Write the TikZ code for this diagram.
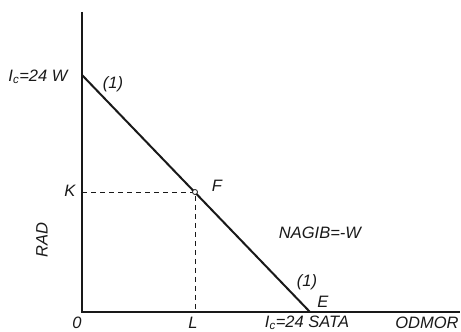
\documentclass[tikz,border=0pt]{standalone}
\usepackage{fontspec}
\setmainfont{Liberation Sans}
\usetikzlibrary{positioning}
\definecolor{ink}{RGB}{25,25,25}

\begin{document}
\begin{tikzpicture}[x=1pt,y=1pt,font=\fontsize{16.5}{19}\selectfont\itshape,
  axis/.style={draw=ink,line width=1.3pt},
  budget/.style={draw=ink,line width=2pt},
  guide/.style={draw=ink,line width=0.8pt,dash pattern=on 5pt off 4pt},
  lbl/.style={text=ink,inner sep=1pt},
  dot/.style={circle,draw=ink,fill=white,line width=0.8pt,inner sep=0pt,minimum size=5pt}]
  \useasboundingbox (0,0) rectangle (461,332);
  \coordinate (O) at (82,20);
  \coordinate (ytop) at (82,320);
  \coordinate (xend) at (460,20);
  \coordinate (A) at (82,257);
  \coordinate (E) at (310,20);
  \coordinate (Fp) at (195,140);
  % axes
  \draw[axis] (ytop) -- (O) -- (xend);
  % dashed guides to F
  \draw[guide] (O |- Fp) -- (Fp) -- (Fp |- O);
  % budget line
  \draw[budget] (A) -- (E);
  \node[dot] (F) at (Fp) {};
  % labels
  \node[lbl] (ic) at (38,255) {I\textsubscript{c}=24 W};
  \node[lbl] (one) at (113,248) {(1)};
  \node[lbl] (K) at (70,141) {K};
  \node[lbl] (Flbl) at (217,146) {F};
  \node[lbl] (nagib) at (320,99) {NAGIB=-W};
  \node[lbl] (onelow) at (307,50) {(1)};
  \node[lbl] (Elbl) at (323,30) {E};
  \node[lbl] (zero) at (77,9) {0};
  \node[lbl] (L) at (193,9) {L};
  \node[lbl] (sata) at (307,9) {I\textsubscript{c}=24 SATA};
  \node[lbl] (odmor) at (427,9) {ODMOR};
  \node[lbl,rotate=90] (rad) at (42,92) {RAD};
\end{tikzpicture}
\end{document}
